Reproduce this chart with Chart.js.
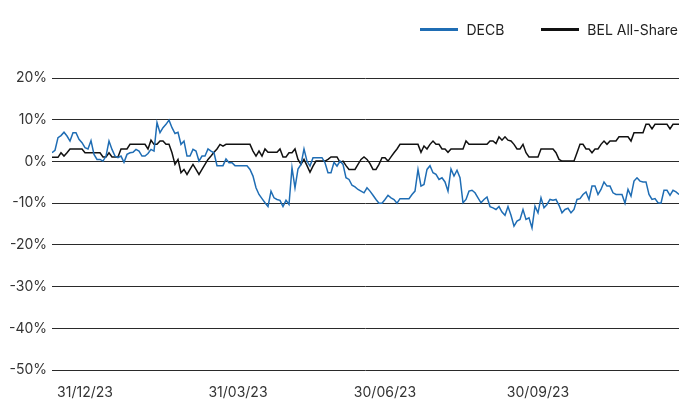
<!DOCTYPE html>
<html>
<head>
<meta charset="utf-8">
<script src="https://cdn.jsdelivr.net/npm/chart.js@4/dist/chart.umd.min.js"></script>
<style>
  html, body { margin: 0; padding: 0; background: #fff; }
  #wrap { position: relative; width: 680px; height: 402px; overflow: hidden; }
  #legend {
    position: absolute; top: 21px; right: 2px;
    display: flex; align-items: center;
    font-family: Inter, "Noto Sans", sans-serif; font-size: 14px; color: #222;
  }
  #legend .item { display: flex; align-items: center; margin-left: 37px; }
  #legend .swatch { width: 38px; height: 2.5px; margin-right: 8px; }
  canvas { display: block; }
</style>
</head>
<body>
<div id="wrap">
  <div id="legend"></div>
  <canvas id="myChart" width="680" height="402"></canvas>
</div>
<script>
// Cumulative performance, in %
const seriesNames = ['DECB', 'BEL All-Share'];
const seriesColors = ['#1f6db4', '#111111'];

const decb = [
  2.1, 2.7, 5.7, 6.2, 7.0, 6.1, 4.9, 6.9, 6.9, 5.3, 4.5, 3.3, 3.0, 5.0, 1.7, 0.5, 0.5, 0.1, 1.3, 4.9,
  2.9, 1.3, 0.9, 1.3, -0.2, 1.7, 2.1, 2.2, 2.9, 2.5, 1.3,
  1.3, 1.9, 2.9, 2.5, 9.3, 6.9, 8.1, 8.9, 9.9, 8.1, 6.7, 7.0, 4.1, 4.9, 1.3, 1.3, 2.9, 2.5, 0.1, 1.3,
  1.3, 3.0, 2.5, 2.1, -1.0, -1.0, -1.0, 0.6, -0.3, -0.3,
  -1.0, -1.0, -1.0, -1.0, -1.0, -1.9, -3.5, -6.3, -7.9, -8.9, -9.9, -10.8, -7.1, -8.7, -9.1, -9.3,
  -10.8, -9.3, -10.3, -1.5, -6.3, -1.8, -0.7, 3.0, 0.1, -1.1, 0.9, 0.9, 0.9, 0.9,
  -0.3, -2.7, -2.7, -0.2, -1.1, 0.1, -0.7, -3.9, -4.3, -5.7, -6.1, -6.7, -7.1, -7.5, -6.3, -7.1,
  -8.1, -9.1, -10.0, -10.0, -9.1, -8.1, -8.7, -9.1, -10.0, -8.9, -8.9, -8.9, -8.9, -7.9,
  -7.1, -1.9, -5.9, -5.5, -1.9, -1.0, -2.7, -3.1, -4.3, -3.9, -4.9, -7.1, -1.8, -3.5, -2.1, -3.9,
  -9.9, -9.1, -7.1, -6.9, -7.5, -8.7, -9.9, -9.1, -8.5, -10.8, -11.1, -11.5, -10.8, -12.1,
  -12.9, -10.8, -12.9, -15.5, -14.3, -13.9, -11.5, -13.9, -13.5, -15.9, -10.7, -12.3, -8.7, -11.1,
  -10.3, -9.1, -9.3, -9.1, -10.5, -12.3, -11.5, -11.2, -12.3, -11.5, -9.1, -8.9, -7.9, -7.3, -9.1, -5.9,
  -5.9, -7.9, -6.7, -4.9, -5.9, -5.9, -7.5, -7.9, -7.9, -7.9, -10.0, -6.7, -8.3, -4.7, -3.9, -4.7,
  -4.9, -4.9, -7.9, -9.1, -8.9, -9.9, -10.0, -6.9, -6.9, -8.1, -6.9, -7.3, -7.9
];

const belAllShare = [
  1.0, 1.0, 1.0, 2.1, 1.3, 2.1, 3.0, 3.0, 3.0, 3.0, 3.0, 2.1, 2.1, 2.1, 2.1, 2.1, 2.1, 1.1, 1.1, 2.1,
  1.1, 1.1, 1.1, 3.0, 3.0, 3.0, 4.1, 4.1, 4.1, 4.1, 4.1,
  4.1, 3.0, 5.1, 4.1, 4.1, 4.9, 4.9, 4.1, 4.1, 2.1, -0.7, 0.5, -2.7, -1.9, -3.1, -1.9, -0.7, -1.9,
  -3.1, -1.9, -0.7, 0.5, 1.3, 2.2, 3.0, 4.1, 3.7, 4.1, 4.1, 4.1,
  4.1, 4.1, 4.1, 4.1, 4.1, 4.1, 2.5, 1.3, 2.5, 1.3, 3.0, 2.2, 2.2, 2.2, 2.2, 3.0, 1.1, 1.1, 2.1, 2.1,
  3.0, 0.5, -0.7, 0.5, -1.0, -2.6, -1.1, 0.1, 0.1, 0.1,
  0.1, 0.5, 1.1, 1.1, 1.1, -0.2, 0.1, -1.0, -1.9, -1.9, -1.9, -0.7, 0.5, 1.1, 0.5, -0.5, -1.9, -1.9,
  -0.7, 0.9, 0.9, 0.1, 1.1, 2.1, 3.0, 4.1, 4.1, 4.1, 4.1, 4.1,
  4.1, 4.1, 2.2, 3.7, 3.0, 4.1, 4.9, 4.1, 4.1, 3.0, 3.0, 2.2, 3.0, 3.0, 3.0, 3.0, 3.0, 4.9, 4.1, 4.1,
  4.1, 4.1, 4.1, 4.1, 4.1, 4.9, 4.9, 4.3, 5.9, 5.1,
  5.9, 5.1, 4.9, 4.1, 3.0, 3.0, 4.1, 2.1, 1.1, 1.1, 1.1, 1.1, 3.0, 3.0, 3.0, 3.0, 3.0, 2.1, 0.5, 0.1,
  0.1, 0.1, 0.1, 0.1, 2.1, 4.1, 4.1, 3.0, 3.0, 2.1,
  3.0, 3.0, 4.1, 4.9, 4.1, 4.9, 4.9, 4.9, 5.9, 5.9, 5.9, 5.9, 4.9, 6.9, 6.9, 6.9, 6.9, 8.9, 8.9, 7.8,
  8.9, 8.9, 8.9, 8.9, 8.9, 7.8, 8.9, 8.9, 8.9
];

// Date labels on the x axis and the observation they sit under
const tickLabels = ['31/12/23', '31/03/23', '30/06/23', '30/09/23'];
const tickIndex = [11, 62, 111, 162];

const yTicks = { min: -50, max: 20, step: 10 };

const toPoints = (values) => values.map((v, i) => ({ x: i, y: v }));
const fontFamily = 'Inter, "Noto Sans", sans-serif';

// Legend drawn as html above the canvas
const legendEl = document.getElementById('legend');
seriesNames.forEach((name, i) => {
  const item = document.createElement('div');
  item.className = 'item';
  item.innerHTML = '<span class="swatch" style="background:' + seriesColors[i] + '"></span>' + name;
  legendEl.appendChild(item);
});

const ctx = document.getElementById('myChart');

const myChart = new Chart(ctx, {
  type: 'line',
  data: {
    datasets: [
      {
        label: seriesNames[0],
        data: toPoints(decb),
        borderColor: seriesColors[0],
        borderWidth: 1.5,
        pointRadius: 0,
        tension: 0
      },
      {
        label: seriesNames[1],
        data: toPoints(belAllShare),
        borderColor: seriesColors[1],
        borderWidth: 1.5,
        pointRadius: 0,
        tension: 0
      }
    ]
  },
  options: {
    responsive: false,
    animation: false,
    layout: { padding: { top: 78, right: 1, bottom: -13, left: 0 } },
    plugins: {
      legend: { display: false },
      tooltip: { enabled: false }
    },
    scales: {
      x: {
        type: 'linear',
        min: 0,
        max: decb.length - 1,
        afterBuildTicks: (axis) => {
          axis.ticks = tickIndex.map(v => ({ value: v }));
        },
        ticks: {
          autoSkip: false,
          maxRotation: 0,
          padding: 14,
          color: '#333',
          font: { family: fontFamily, size: 14 },
          callback: (value) => tickLabels[tickIndex.indexOf(value)]
        },
        grid: { display: false, drawTicks: false },
        border: { display: false }
      },
      y: {
        min: yTicks.min,
        max: yTicks.max,
        afterFit: (axis) => { axis.width = 52; },
        ticks: {
          stepSize: yTicks.step,
          padding: 5,
          color: '#333',
          font: { family: fontFamily, size: 14 },
          callback: (value) => value + '%'
        },
        grid: {
          color: '#2a2a2a',
          lineWidth: 1,
          drawTicks: false
        },
        border: { display: false }
      }
    }
  }
});
</script>
</body>
</html>
